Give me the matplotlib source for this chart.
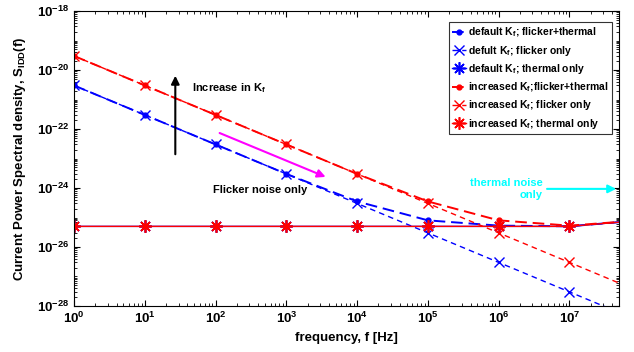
import numpy as np
import matplotlib
matplotlib.use("Agg")
import matplotlib.pyplot as plt
from matplotlib.ticker import LogLocator, NullFormatter, FixedLocator

plt.rcParams['font.family'] = ['Liberation Sans', 'DejaVu Sans']
plt.rcParams['font.weight'] = 'bold'
plt.rcParams['mathtext.default'] = 'regular'

freq = [1e0, 1e1, 1e2, 1e3, 1e4, 1e5, 1e6, 1e7, 1e8]
default_flicker = [3e-21, 3e-22, 3e-23, 3e-24, 3e-25, 3e-26, 3e-27, 3e-28, 3e-29]
increased_flicker = [3e-20, 3e-21, 3e-22, 3e-23, 3e-24, 3e-25, 3e-26, 3e-27, 3e-28]
thermal = [5e-26, 5e-26, 5e-26, 5e-26, 5e-26, 5e-26, 5e-26, 5e-26, 8e-26]
default_total = [3e-21, 3e-22, 3e-23, 3e-24, 3.5e-25, 8e-26, 5.3e-26, 5.03e-26, 8e-26]
increased_total = [3e-20, 3e-21, 3e-22, 3e-23, 3e-24, 3.5e-25, 8e-26, 5.3e-26, 8.03e-26]

fig = plt.figure(figsize=(6.34, 3.52), dpi=100)
ax = fig.add_axes([0.1167, 0.1307, 0.8596, 0.838])

blue = '#0000ff'
red = '#ff0000'
ast = (8, 2, 0)
ax.loglog(freq, default_total, color=blue, ls=(0, (6, 3)), lw=1.4, marker='.', ms=7,
          label='default K$_f$; flicker+thermal')
ax.loglog(freq, default_flicker, color=blue, ls=(0, (4, 3)), lw=1.0, marker='x', ms=7,
          label='defult K$_f$; flicker only')
ax.loglog(freq, thermal, color=blue, ls='-', lw=1.0, marker=ast, ms=9, mew=1.2,
          label='default K$_f$; thermal only')
ax.loglog(freq, increased_total, color=red, ls=(0, (6, 3)), lw=1.4, marker='.', ms=7,
          label='increased K$_f$;flicker+thermal')
ax.loglog(freq, increased_flicker, color=red, ls=(0, (4, 3)), lw=1.0, marker='x', ms=7,
          label='increased K$_f$; flicker only')
ax.loglog(freq, thermal, color=red, ls='-', lw=1.0, marker=ast, ms=9, mew=1.2,
          label='increased K$_f$; thermal only')

ax.set_xlim(1, 5e7)
ax.set_ylim(1e-28, 1e-18)

ax.xaxis.set_major_locator(FixedLocator([10.0**k for k in range(0, 8)]))
ax.xaxis.set_minor_locator(LogLocator(base=10, subs=np.arange(2, 10), numticks=20))
ax.xaxis.set_minor_formatter(NullFormatter())
ax.yaxis.set_major_locator(FixedLocator([10.0**k for k in range(-28, -17, 2)]))
ax.yaxis.set_minor_locator(LogLocator(base=10, subs=np.arange(1, 10), numticks=20))
ax.yaxis.set_minor_formatter(NullFormatter())
ax.tick_params(which='both', direction='in', top=True, right=True, labelsize=9.5)
ax.tick_params(which='major', length=4)
ax.tick_params(which='minor', length=2)
for lab in ax.get_xticklabels() + ax.get_yticklabels():
    lab.set_fontweight('bold')

ax.set_xlabel('frequency, f [Hz]', fontsize=9.5, fontweight='bold', labelpad=4)
ax.set_ylabel('Current Power Spectral density, S$_{IDD}$(f)', fontsize=9.5,
              fontweight='bold', labelpad=6)

leg = ax.legend(loc='upper right', fontsize=7.5, frameon=True, fancybox=False,
                edgecolor='black', handlelength=1.3, handletextpad=0.2,
                borderpad=0.35, labelspacing=0.42, bbox_to_anchor=(0.997, 0.98))
leg.get_frame().set_linewidth(0.8)
for t in leg.get_texts():
    t.set_fontweight('bold')

# annotations
ax.annotate('', xy=(27, 10**-20.1), xytext=(27, 10**-22.95),
            arrowprops=dict(arrowstyle='-|>', color='black', lw=1.5, mutation_scale=12))
ax.text(46, 10**-20.6, 'Increase in K$_f$', fontsize=8, fontweight='bold', va='center')
ax.annotate('', xy=(3900, 10**-23.66), xytext=(105, 10**-22.1),
            arrowprops=dict(arrowstyle='-|>', color='#ff00ff', lw=1.5, mutation_scale=12))
ax.text(425, 10**-24.07, 'Flicker noise only', fontsize=8, fontweight='bold',
        ha='center', va='center')
ax.text(4.2e6, 10**-24.03, 'thermal noise\nonly', fontsize=8, fontweight='bold',
        color='#00ffff', ha='right', va='center', multialignment='right', linespacing=1.25)
ax.annotate('', xy=(5e7, 10**-24.03), xytext=(4.4e6, 10**-24.03),
            arrowprops=dict(arrowstyle='-|>', color='#00ffff', lw=1.5, mutation_scale=12))

fig.savefig('out.png', dpi=100)
